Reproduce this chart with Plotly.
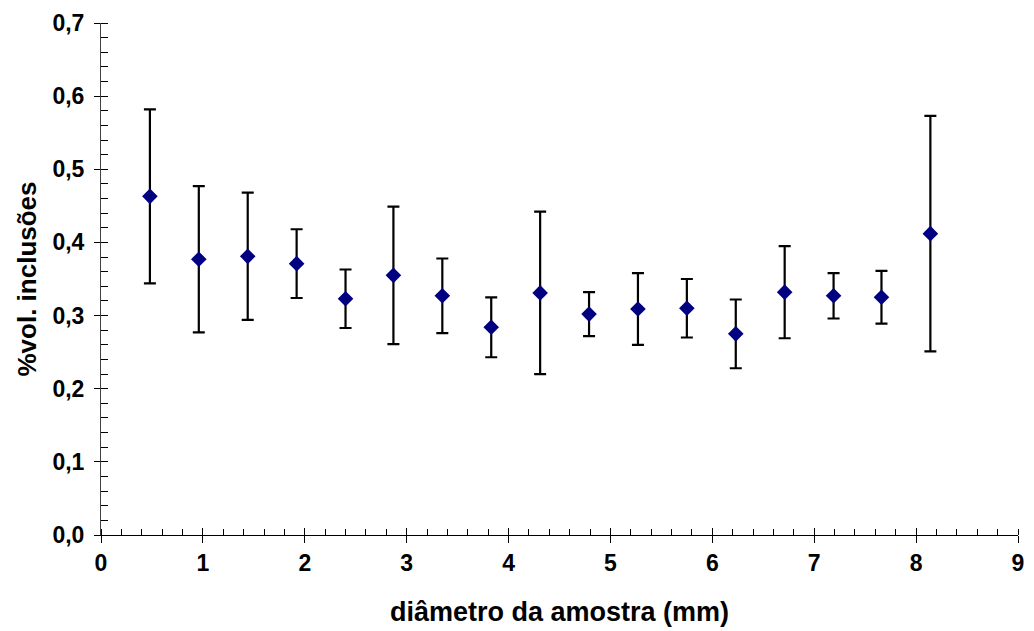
import plotly.graph_objects as go

diametro = [0.48, 0.96, 1.44, 1.92, 2.40, 2.87, 3.35, 3.83, 4.31, 4.79,
            5.27, 5.75, 6.23, 6.71, 7.19, 7.66, 8.14]
vol_inclusoes = [0.463, 0.377, 0.381, 0.371, 0.323, 0.355, 0.327, 0.284, 0.331, 0.302,
                 0.309, 0.310, 0.275, 0.332, 0.327, 0.325, 0.412]
erro = [0.119, 0.100, 0.087, 0.047, 0.040, 0.094, 0.051, 0.041, 0.111, 0.030,
        0.049, 0.040, 0.047, 0.063, 0.031, 0.036, 0.161]

FONT = "Liberation Sans, Arial, sans-serif"

fig = go.Figure()
fig.add_trace(go.Scatter(
    x=diametro, y=vol_inclusoes, mode="markers",
    marker=dict(symbol="diamond", size=12, color="#000080"),
    error_y=dict(type="data", array=erro, visible=True, color="black",
                 thickness=2.2, width=6),
    showlegend=False,
))
# invisible trace for overlay axes (inside major ticks)
fig.add_trace(go.Scatter(x=[None], y=[None], xaxis="x2", yaxis="y2",
                         showlegend=False, hoverinfo="skip"))

fig.update_layout(
    width=1034, height=631,
    margin=dict(l=101, r=10, t=18, b=96),
    paper_bgcolor="white", plot_bgcolor="white",
    separators=",.",
    font=dict(family=FONT, color="black"),
    xaxis=dict(
        range=[0, 9], dtick=1, tick0=0, showgrid=False, zeroline=False,
        showline=True, linecolor="black", linewidth=1,
        ticks="outside", ticklen=7, tickcolor="black", tickwidth=1,
        minor=dict(ticks="inside", ticklen=6, dtick=0.2, tick0=0,
                   tickcolor="black", showgrid=False),
        tickfont=dict(size=23, family=FONT, weight="bold"),
        ticklabelstandoff=0,
        title=dict(text="<b>diâmetro da amostra (mm)</b>",
                   font=dict(size=27, family=FONT), standoff=27),
    ),
    yaxis=dict(
        range=[0, 0.7], dtick=0.1, tick0=0, tickformat=".1f",
        showgrid=False, zeroline=False,
        showline=True, linecolor="#404040", linewidth=1,
        ticks="outside", ticklen=6, tickcolor="black", tickwidth=1,
        minor=dict(ticks="inside", ticklen=7, dtick=0.02, tick0=0,
                   tickcolor="black", showgrid=False),
        tickfont=dict(size=23, family=FONT, weight="bold"),
        ticklabelstandoff=5,
        title=dict(text="<b>%vol. inclusões</b>",
                   font=dict(size=26, family=FONT), standoff=8),
    ),
    xaxis2=dict(range=[0, 9], dtick=1, tick0=0, overlaying="x", anchor="y",
                side="bottom", showgrid=False, zeroline=False, showline=False,
                ticks="inside", ticklen=7, tickcolor="black",
                showticklabels=False),
    yaxis2=dict(range=[0, 0.7], dtick=0.1, tick0=0, overlaying="y", anchor="x",
                side="left", showgrid=False, zeroline=False, showline=False,
                ticks="inside", ticklen=7, tickcolor="black",
                showticklabels=False),
)

fig.write_html("out.html")
